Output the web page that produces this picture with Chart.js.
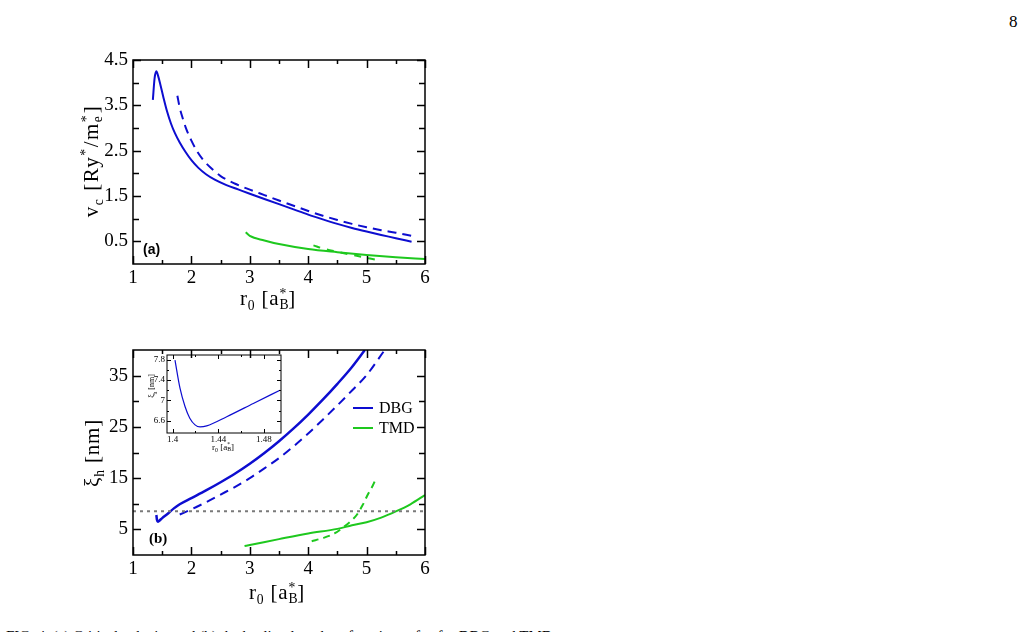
<!DOCTYPE html>
<html>
<head>
<meta charset="utf-8">
<script src="https://cdn.jsdelivr.net/npm/chart.js@4.4.1/dist/chart.umd.min.js"></script>
<style>
  body { margin: 0; width: 1028px; height: 632px; overflow: hidden; background: #fff; position: relative;
         font-family: 'Liberation Serif', 'DejaVu Serif', serif; color: #000; }
  canvas { position: absolute; }
  .t { position: absolute; white-space: nowrap; line-height: 1; }
  .rot { transform: translate(-50%, -50%) rotate(-90deg); }
  .ctr { transform: translate(-50%, -50%); }
  .ax { font-size: 21px; letter-spacing: 0.8px; }
  .ss { position: relative; display: inline-block; width: 0.42em; height: 0; }
  .ss .up, .ss .dn { position: absolute; left: 0; font-size: 0.65em; line-height: 1; }
  .ss .up { top: -1.35em; }
  .ss .dn { top: -0.5em; }
  sub, sup { font-size: 0.65em; line-height: 0; }
  .leg { position: absolute; width: 20px; height: 0; }
</style>
</head>
<body>
<div class="t" style="left:1009px;top:13px;font-size:17px">8</div>

<canvas id="chart-a" width="460" height="300" style="left:0;top:0"></canvas>
<canvas id="chart-b" width="460" height="300" style="left:0;top:310px"></canvas>
<canvas id="chart-in" width="170" height="110" style="left:120px;top:340px"></canvas>

<!-- axis titles -->
<div class="t rot ax" style="left:91px;top:161px;letter-spacing:1.5px">v<sub>c</sub> [Ry<sup>*</sup>/m<span class="ss"><span class="up">*</span><span class="dn">e</span></span>]</div>
<div class="t ctr ax" style="left:268px;top:298px">r<sub>0</sub> [a<span class="ss"><span class="up">*</span><span class="dn">B</span></span>]</div>
<div class="t rot ax" style="left:92px;top:453px">&xi;<sub>h</sub> [nm]</div>
<div class="t ctr ax" style="left:277px;top:592px">r<sub>0</sub> [a<span class="ss"><span class="up">*</span><span class="dn">B</span></span>]</div>
<div class="t rot" style="left:152px;top:386px;font-size:8px">&xi;<sub>h</sub> [nm]</div>
<div class="t ctr" style="left:223px;top:447px;font-size:9px">r<sub>0</sub> [a<span class="ss"><span class="up">*</span><span class="dn">B</span></span>]</div>

<!-- panel tags -->
<div class="t" style="left:143px;top:242px;font-size:14px;font-weight:bold;font-family:'Liberation Sans',sans-serif">(a)</div>
<div class="t" style="left:149px;top:531px;font-size:15px;font-weight:bold">(b)</div>

<!-- legend -->
<div class="leg" style="left:353px;top:407px;border-top:2px solid #0d0dd0"></div>
<div class="t" style="left:379px;top:400px;font-size:16px">DBG</div>
<div class="leg" style="left:353px;top:427px;border-top:2px solid #1ec81e"></div>
<div class="t" style="left:379px;top:420px;font-size:16px">TMD</div>

<div class="t" style="left:6px;top:629px;font-size:15px">FIG. 4. (a) Critical velocity and (b) the healing length as functions of r<sub>0</sub> for DBG and TMD.</div>

<script>
// ---- panel (a): critical velocity ----
const aBlueSolidX = [1.34, 1.37, 1.40, 1.43, 1.47, 1.52, 1.58, 1.65, 1.72, 1.80, 1.90, 2.00, 2.12, 2.25, 2.40, 2.60, 2.80, 3.00, 3.25, 3.50, 3.75, 4.00, 4.25, 4.50, 4.75, 5.00, 5.25, 5.50, 5.77];
const aBlueSolidY = [3.62, 4.10, 4.25, 4.15, 3.95, 3.68, 3.38, 3.10, 2.88, 2.68, 2.47, 2.29, 2.12, 1.98, 1.86, 1.74, 1.645, 1.55, 1.435, 1.32, 1.205, 1.09, 0.985, 0.885, 0.795, 0.715, 0.64, 0.57, 0.49];
const aBlueDashX = [1.76, 1.80, 1.85, 1.90, 2.00, 2.10, 2.20, 2.35, 2.50, 2.75, 3.00, 3.25, 3.50, 3.75, 4.00, 4.25, 4.50, 4.75, 5.00, 5.25, 5.50, 5.77];
const aBlueDashY = [3.71, 3.45, 3.22, 3.02, 2.72, 2.48, 2.30, 2.10, 1.94, 1.77, 1.64, 1.52, 1.40, 1.285, 1.17, 1.065, 0.97, 0.885, 0.81, 0.745, 0.69, 0.62];
const aGreenSolidX = [2.93, 3.00, 3.25, 3.50, 4.00, 4.50, 5.00, 5.50, 6.00];
const aGreenSolidY = [0.70, 0.62, 0.52, 0.44, 0.33, 0.26, 0.20, 0.15, 0.11];
const aGreenDashX = [4.09, 4.26, 4.50, 4.83, 5.17];
const aGreenDashY = [0.41, 0.34, 0.27, 0.18, 0.09];

const aXTicks = [1, 2, 3, 4, 5, 6];
const aXMinor = [1.5, 2.5, 3.5, 4.5, 5.5];
const aYTicks = [0.5, 1.5, 2.5, 3.5, 4.5];
const aYMinor = [1, 2, 3, 4];

// ---- panel (b): healing length ----
const bBlueSolidX = [1.40, 1.41, 1.425, 1.45, 1.50, 1.60, 1.70, 1.80, 2.00, 2.25, 2.50, 2.75, 3.00, 3.25, 3.50, 3.75, 4.00, 4.25, 4.50, 4.75, 4.97];
const bBlueSolidY = [7.8, 6.9, 6.5, 6.7, 7.2, 8.1, 9.1, 9.9, 11.1, 12.6, 14.2, 15.9, 17.8, 19.9, 22.2, 24.7, 27.4, 30.3, 33.4, 36.7, 40.0];
const bBlueDashX = [1.80, 2.00, 2.25, 2.50, 2.75, 3.00, 3.25, 3.50, 3.75, 4.00, 4.25, 4.50, 4.75, 5.00, 5.31];
const bBlueDashY = [7.9, 8.9, 10.3, 11.8, 13.3, 15.0, 16.9, 18.9, 21.2, 23.7, 26.4, 29.2, 32.1, 35.1, 40.0];
const bGreenSolidX = [2.91, 3.00, 3.50, 4.00, 4.50, 4.75, 5.00, 5.25, 5.50, 5.75, 6.00];
const bGreenSolidY = [1.75, 1.95, 3.10, 4.20, 5.10, 5.80, 6.40, 7.30, 8.50, 9.90, 11.70];
const bGreenDashX = [4.06, 4.25, 4.45, 4.60, 4.72, 4.83, 4.93, 5.03, 5.10, 5.16];
const bGreenDashY = [2.7, 3.3, 4.2, 5.4, 6.5, 7.8, 9.7, 12.0, 13.4, 14.9];
const bRefLevel = 8.55;

const bXTicks = [1, 2, 3, 4, 5, 6];
const bXMinor = [1.5, 2.5, 3.5, 4.5, 5.5];
const bYTicks = [5, 15, 25, 35];
const bYMinor = [10, 20, 30];

// ---- inset: minimum of healing length ----
const inX = [1.402, 1.4064, 1.4108, 1.415, 1.4196, 1.424, 1.4298, 1.4474, 1.4707, 1.4941];
const inY = [7.79, 7.24, 6.88, 6.65, 6.52, 6.48, 6.50, 6.68, 6.94, 7.20];
const inXTicks = [1.40, 1.44, 1.48];
const inXMinor = [1.42, 1.46];
const inYTicks = [6.6, 7.0, 7.4, 7.8];
const inYMinor = [6.8, 7.2, 7.6];

const BLUE = '#0d0dd0';
const GREEN = '#1ec81e';
const SERIF = "'Liberation Serif', 'DejaVu Serif', serif";

const pts = (xs, ys) => xs.map((x, i) => ({ x: x, y: ys[i] }));

// inward ticks on all four sides plus the box
const frameTicks = {
    id: 'frameTicks',
    afterDatasetsDraw(chart, args, o) {
        const { ctx, chartArea: a, scales: { x, y } } = chart;
        ctx.save();
        ctx.strokeStyle = '#000';
        ctx.lineWidth = o.lw;
        ctx.beginPath();
        const xt = (v, len) => {
            const p = Math.round(x.getPixelForValue(v)) + 0.5;
            ctx.moveTo(p, a.bottom); ctx.lineTo(p, a.bottom - len);
            ctx.moveTo(p, a.top); ctx.lineTo(p, a.top + len);
        };
        const yt = (v, len) => {
            const p = Math.round(y.getPixelForValue(v)) + 0.5;
            ctx.moveTo(a.left, p); ctx.lineTo(a.left + len, p);
            ctx.moveTo(a.right, p); ctx.lineTo(a.right - len, p);
        };
        o.xMajor.forEach(v => xt(v, o.major));
        o.xMinor.forEach(v => xt(v, o.minor));
        o.yMajor.forEach(v => yt(v, o.major));
        o.yMinor.forEach(v => yt(v, o.yminor));
        ctx.stroke();
        ctx.strokeRect(a.left, a.top, a.width, a.height);
        ctx.restore();
    }
};

function makeChart(id, datasets, cfg) {
    return new Chart(document.getElementById(id), {
        type: 'scatter',
        data: { datasets: datasets },
        options: {
            responsive: false,
            animation: false,
            devicePixelRatio: 1,
            layout: { padding: cfg.pad },
            plugins: {
                legend: { display: false },
                tooltip: { enabled: false },
                frameTicks: cfg.ticks
            },
            elements: { point: { radius: 0 } },
            scales: {
                x: {
                    type: 'linear', min: cfg.xr[0], max: cfg.xr[1],
                    grid: { display: false, drawTicks: false, tickLength: 0 }, border: { display: false },
                    afterBuildTicks: s => { s.ticks = cfg.ticks.xMajor.map(v => ({ value: v })); },
                    afterFit: s => { s.height = cfg.xh; },
                    ticks: { color: '#000', padding: cfg.tpx, maxRotation: 0, autoSkip: false,
                             font: { family: SERIF, size: cfg.fs }, callback: v => String(+v.toFixed(2)) }
                },
                y: {
                    type: 'linear', min: cfg.yr[0], max: cfg.yr[1],
                    grid: { display: false, drawTicks: false, tickLength: 0 }, border: { display: false },
                    afterBuildTicks: s => { s.ticks = cfg.ticks.yMajor.map(v => ({ value: v })); },
                    afterFit: s => { s.width = cfg.yw; },
                    ticks: { color: '#000', padding: cfg.tpy, autoSkip: false,
                             font: { family: SERIF, size: cfg.fs }, callback: v => String(+v.toFixed(2)) }
                }
            }
        },
        plugins: [frameTicks]
    });
}

function line(data, color, width, dash) {
    return {
        data: data, showLine: true, borderColor: color, borderWidth: width,
        borderDash: dash || [], cubicInterpolationMode: 'monotone', pointRadius: 0, fill: false
    };
}

makeChart('chart-a', [
    line(pts(aBlueDashX, aBlueDashY), BLUE, 2, [9, 6]),
    line(pts(aBlueSolidX, aBlueSolidY), BLUE, 2),
    line(pts(aGreenDashX, aGreenDashY), GREEN, 2, [7, 7]),
    line(pts(aGreenSolidX, aGreenSolidY), GREEN, 2)
], {
    pad: { left: 83, top: 60, right: 35, bottom: 6 },
    xr: [1, 6], yr: [0, 4.5], xh: 30, yw: 50, tpx: 3, tpy: 5, fs: 19,
    ticks: { xMajor: aXTicks, xMinor: aXMinor, yMajor: aYTicks, yMinor: aYMinor, major: 8, minor: 4, yminor: 6, lw: 1.5 }
});

makeChart('chart-b', [
    line(pts([bXTicks[0], bXTicks[bXTicks.length - 1]], [bRefLevel, bRefLevel]), '#7a7a7a', 2, [3, 4]),
    line(pts(bBlueDashX, bBlueDashY), BLUE, 2, [9, 6]),
    line(pts(bBlueSolidX, bBlueSolidY), BLUE, 2.5),
    line(pts(bGreenDashX, bGreenDashY), GREEN, 2, [7, 5]),
    line(pts(bGreenSolidX, bGreenSolidY), GREEN, 2)
], {
    pad: { left: 83, top: 40, right: 35, bottom: 25 },
    xr: [1, 6], yr: [0, 40], xh: 30, yw: 50, tpx: 3, tpy: 5, fs: 19,
    ticks: { xMajor: bXTicks, xMinor: bXMinor, yMajor: bYTicks, yMinor: bYMinor, major: 8, minor: 4, yminor: 6, lw: 1.5 }
});

makeChart('chart-in', [
    line(pts(inX, inY), BLUE, 1.2)
], {
    pad: { left: 27, top: 15, right: 9, bottom: 5 },
    xr: [1.395, 1.495], yr: [6.36, 7.89], xh: 12, yw: 20, tpx: 1, tpy: 2, fs: 9,
    ticks: { xMajor: inXTicks, xMinor: inXMinor, yMajor: inYTicks, yMinor: inYMinor, major: 4, minor: 2, yminor: 2, lw: 1 }
});
</script>
</body>
</html>
